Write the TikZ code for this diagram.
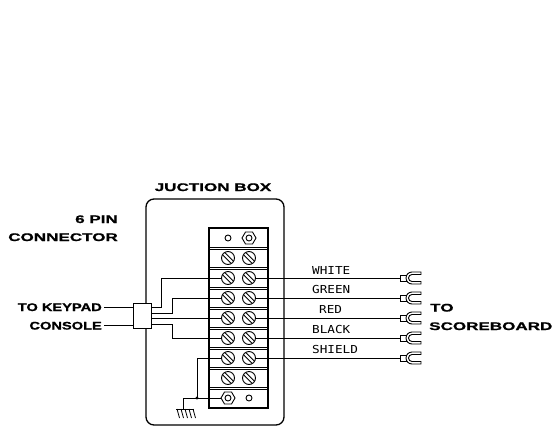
\documentclass[tikz,border=0pt]{standalone}
\usepackage{fontspec}
\newfontfamily\headfont[FakeStretch=1.55,FakeBold=1.2]{Liberation Sans}
\newfontfamily\headfontn[FakeStretch=1.33,FakeBold=1.2]{Liberation Sans}
\newfontfamily\wirefont[FakeStretch=1.15]{DejaVu Sans Mono}
\begin{document}
\begin{tikzpicture}[x=1pt,y=1pt,
  wire/.style={line width=1pt},
  head/.style={inner sep=0pt, font=\headfont\bfseries\fontsize{11}{12}\selectfont},
  headn/.style={inner sep=0pt, font=\headfontn\bfseries\fontsize{11}{12}\selectfont},
  wlabel/.style={inner sep=0pt, anchor=base west, font=\wirefont\fontsize{11}{12}\selectfont},
  screw/.pic={
    \draw[line width=0.9pt] (0,0) circle (6.5);
    \draw[line width=0.8pt] (-3.32,5.58) -- (5.58,-3.32);
    \draw[line width=0.8pt] (-5.58,3.32) -- (3.32,-5.58);
  },
  hexnut/.pic={
    \draw[line width=0.9pt] (-7,0) -- (-3.5,6) -- (3.5,6) -- (7,0) -- (3.5,-6) -- (-3.5,-6) -- cycle;
    \draw[line width=0.9pt] (0,0) circle (3);
  },
  fork/.pic={
    \draw[line width=0.9pt, fill=white] (0,-3) rectangle (7,3);
    \draw[line width=0.9pt, fill=white] (21,6) -- (12,6) arc (90:270:6) -- (21,-6) -- (21,-3.5)
      -- (12,-3.5) arc (270:90:3.5) -- (21,3.5) -- cycle;
  }]
\useasboundingbox (0,0) rectangle (553,-428);

% junction box
\draw[line width=1.3pt, rounded corners=8pt] (146,-199) rectangle (284,-425);
\node[head, anchor=base] (jbt) at (213,-191) {JUCTION BOX};

% terminal strip
\draw[line width=1.1pt] (209,-228) rectangle (268,-408);
\foreach \k in {1,...,8} {
  \draw[line width=0.9pt] (209,{-228-20*\k+1}) -- (268,{-228-20*\k+1});
  \draw[line width=0.7pt] (209,{-228-20*\k-1.2}) -- (268,{-228-20*\k-1.2});
}
\draw[line width=0.9pt] (228,-238) circle (3);
\pic at (249,-238) {hexnut};
\foreach \y in {258,278,298,318,338,358,378} {
  \pic at (228,-\y) {screw};
  \pic at (249,-\y) {screw};
}
\pic at (228,-398) {hexnut};
\draw[line width=0.9pt] (249,-398) circle (3);

% terminals
\coordinate (Lw) at (221.5,-278); \coordinate (Lg) at (221.5,-298);
\coordinate (Lr) at (221.5,-318); \coordinate (Lb) at (221.5,-338);
\coordinate (Ls) at (221.5,-358); \coordinate (Gn) at (221,-398);

% right side wires and forks
\foreach \y/\c in {278/w,298/g,318/r,338/b,358/s} {
  \coordinate (R\c) at (255.5,-\y);
  \coordinate (F\c) at (400,-\y);
  \draw[wire] (R\c) -- (F\c);
  \pic at (F\c) {fork};
}
\node[wlabel] (tw) at (312,-274) {WHITE};
\node[wlabel] (tg) at (312,-293.5) {GREEN};
\node[wlabel] (tr) at (319,-313) {RED};
\node[wlabel] (tb) at (312,-333) {BLACK};
\node[wlabel] (ts) at (312,-353) {SHIELD};

% 6 pin connector
\coordinate (c1) at (151,-307); \coordinate (c2) at (151,-313);
\coordinate (c3) at (151,-318); \coordinate (c4) at (151,-324);
\draw[wire] (c1) -| (161,-278) -- (Lw);
\draw[wire] (c2) -| (172,-298) -- (Lg);
\draw[wire] (c3) -- (Lr);
\draw[wire] (c4) -| (172,-338) -- (Lb);
\node[draw, line width=1pt, fill=white, minimum width=18pt, minimum height=25pt, inner sep=0pt] (conn) at (142,-315.5) {};
\coordinate (k1) at (104,-307); \coordinate (k2) at (104,-325);
\draw[wire] (k1) -- (k1 -| conn.west);
\draw[wire] (k2) -- (k2 -| conn.west);

\node[head, anchor=base east] (t6) at (118,-223) {6 PIN};
\node[head, anchor=base east] (tc) at (118,-241) {CONNECTOR};
\node[headn, anchor=base east] (tk) at (102,-311) {TO KEYPAD};
\node[headn, anchor=base east] (tcs) at (102,-329.5) {CONSOLE};
\node[head, anchor=base west] (tto) at (430,-311.5) {TO};
\node[head, anchor=base west] (tsb) at (429,-330) {SCOREBOARD};

% shield and ground
\coordinate (sj) at (197,-398);
\coordinate (gc) at (183,-398);
\coordinate (gb) at (183,-409);
\draw[wire] (Ls) -| (sj);
\draw[wire] (Gn) -- (gc) -- (gb);
\fill (sj) circle (1.6);
\draw[wire] (176,-409) -- (194,-409);
\foreach \x in {177,181,185,189,193} {
  \draw[line width=0.8pt] (\x,-409) -- (\x+2.5,-418);
}
\end{tikzpicture}
\end{document}
